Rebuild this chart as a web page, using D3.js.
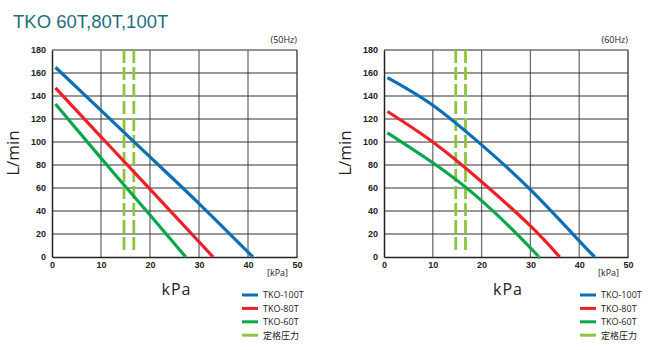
<!DOCTYPE html>
<html><head><meta charset="utf-8">
<script src="https://cdn.jsdelivr.net/npm/d3@7"></script>
<style>body{margin:0;background:#fff;}svg{display:block;font-family:"Open Sans","Noto Sans","Noto Sans CJK JP",sans-serif;}</style>
</head><body><svg id="c" width="650" height="350"></svg>
<script>
const titleText = "TKO 60T,80T,100T";
const xTicks = [0, 10, 20, 30, 40, 50];
const yTicks = [0, 20, 40, 60, 80, 100, 120, 140, 160, 180];
const seriesNames = ["TKO-100T", "TKO-80T", "TKO-60T"];
const ratedName = "定格圧力";
const ratedPressure = [14.7, 16.7];
const ratedRange = [3, 180];
const freqLabels = ["(50Hz)", "(60Hz)"];
// 50Hz curves [kPa, L/min]
const hz50_100T = [[0.7,165],[10,127.5],[20,87],[30,46.5],[41,0]];
const hz50_80T  = [[0.7,147],[10,104.5],[20,59],[32.9,0]];
const hz50_60T  = [[0.7,133],[10,86],[20,36.5],[27.3,0]];
// 60Hz curves
const hz60_100T = [[0.7,156],[10,132],[20,97.5],[30,58.5],[40,14],[43.2,0]];
const hz60_80T  = [[0.7,126.5],[10,100],[20,65.5],[30,27],[36,0]];
const hz60_60T  = [[0.7,108],[10,82],[20,49],[30,8],[31.6,0]];

const colors = ["#0a6fb8", "#ee2027", "#0aa64c"];
const ratedColor = "#8cc63f";

const svg = d3.select("#c");
svg.append("text").attr("x", 13).attr("y", 28).attr("font-size", 18.5)
  .attr("fill", "#1f6f7f").attr("font-family", "Liberation Sans, Arial, sans-serif").text(titleText);

const charts = [
  {x0: 52, x1: 297, series: [hz50_100T, hz50_80T, hz50_60T], freq: freqLabels[0], yl: 13, legX: 242},
  {x0: 384, x1: 628, series: [hz60_100T, hz60_80T, hz60_60T], freq: freqLabels[1], yl: 345, legX: 580}
];
const yTop = 50, yBot = 257;

charts.forEach(ch => {
  const x = d3.scaleLinear().domain([0, 50]).range([ch.x0, ch.x1]);
  const y = d3.scaleLinear().domain([0, 180]).range([yBot, yTop]);
  const g = svg.append("g");
  g.selectAll(".vg").data(xTicks.slice(1, -1)).join("line")
    .attr("x1", d => x(d)).attr("x2", d => x(d)).attr("y1", yTop).attr("y2", yBot)
    .attr("stroke", "#6f6f6f").attr("stroke-width", 1.3);
  g.selectAll(".hg").data(yTicks.slice(1, -1)).join("line")
    .attr("x1", ch.x0).attr("x2", ch.x1).attr("y1", d => y(d)).attr("y2", d => y(d))
    .attr("stroke", "#333").attr("stroke-width", 1.2);
  g.append("line").attr("x1", ch.x0).attr("x2", ch.x1).attr("y1", yTop).attr("y2", yTop)
    .attr("stroke", "#6f6f6f").attr("stroke-width", 1.3);
  g.append("line").attr("x1", ch.x1).attr("x2", ch.x1).attr("y1", yTop).attr("y2", yBot)
    .attr("stroke", "#333").attr("stroke-width", 1.3);
  const ax = d3.axisBottom(x).tickValues(xTicks).tickSize(0).tickPadding(5);
  const axg = g.append("g").attr("transform", `translate(0,${yBot})`).call(ax);
  axg.select(".domain").attr("stroke", "#222").attr("stroke-width", 1.5);
  axg.selectAll("text").attr("font-size", 9).attr("fill", "#222").attr("font-weight", 600);
  const ay = d3.axisLeft(y).tickValues(yTicks).tickSize(0).tickPadding(6);
  const ayg = g.append("g").attr("transform", `translate(${ch.x0},0)`).call(ay);
  ayg.select(".domain").attr("stroke", "#222").attr("stroke-width", 1.5);
  ayg.selectAll("text").attr("font-size", 9).attr("fill", "#222").attr("font-weight", 600);

  g.selectAll(".rp").data(ratedPressure).join("line")
    .attr("x1", d => x(d)).attr("x2", d => x(d)).attr("y1", y(ratedRange[1])).attr("y2", y(ratedRange[0]))
    .attr("stroke", ratedColor).attr("stroke-width", 2.8).attr("stroke-dasharray", "13,4");

  const line = d3.line().x(d => x(d[0])).y(d => y(d[1])).curve(d3.curveNatural);
  ch.series.forEach((s, i) => {
    g.append("path").attr("d", line(s)).attr("fill", "none")
      .attr("stroke", colors[i]).attr("stroke-width", 3.2);
  });

  g.append("text").attr("x", ch.x1).attr("y", 43).attr("text-anchor", "end")
    .attr("font-size", 9).attr("fill", "#222").text(ch.freq);
  g.append("text").attr("x", ch.x1 - 9).attr("y", 276).attr("text-anchor", "end")
    .attr("font-size", 9).attr("fill", "#222").text("[kPa]");
  g.append("text").attr("transform", `translate(${ch.yl + 6},${153}) rotate(-90)`).attr("text-anchor", "middle")
    .attr("font-size", 17).attr("fill", "#222").text("L/min");
  g.append("text").attr("x", (ch.x0 + ch.x1) / 2 + 2).attr("y", 295).attr("text-anchor", "middle")
    .attr("font-size", 16).attr("fill", "#222").attr("letter-spacing", 1).text("kPa");

  const legNames = seriesNames.concat([ratedName]);
  const legColors = colors.concat([ratedColor]);
  legNames.forEach((n, i) => {
    const yy = 295 + i * 13.4;
    g.append("line").attr("x1", ch.legX).attr("x2", ch.legX + 16).attr("y1", yy).attr("y2", yy)
      .attr("stroke", legColors[i]).attr("stroke-width", 3);
    g.append("text").attr("x", ch.legX + 21).attr("y", yy + 3.3).attr("font-size", 9)
      .attr("fill", "#222").text(n);
  });
});
</script></body></html>
